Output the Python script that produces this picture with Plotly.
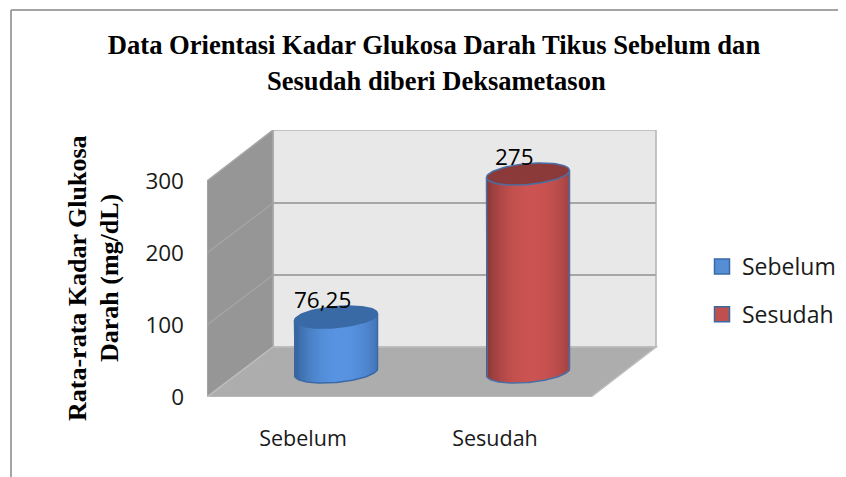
import numpy as np
import plotly.graph_objects as go

categories = ["Sebelum", "Sesudah"]
values = [76.25, 275]
value_labels = ["76,25", "275"]
y_ticks = [0, 100, 200, 300]
title_lines = ["Data Orientasi Kadar Glukosa Darah Tikus Sebelum dan", "Sesudah diberi Deksametason"]
ytitle_lines = ["Rata-rata Kadar Glukosa", "Darah (mg/dL)"]

PAGE = 8                             # the page's own body margin
W, H = 846 - PAGE, 477 - PAGE        # figure size
L, R, T, B = 207, 846, 130, 397      # plot area in window pixels
PX_Y = 0.72                          # pixels per value unit
PX_X = 192.0                         # pixels per category
xmax = (R - L) / PX_X
ymax = (B - T) / PX_Y
xback = (656 - L) / PX_X             # right end of the back wall
DX, DY = 66 / PX_X, 50 / PX_Y        # depth of the 3D box
px = lambda p: (p - L) / (R - L)     # window pixel -> paper
py = lambda p: (B - p) / (B - T)

SERIF = "Liberation Serif"
SANS = "Open Sans"
palettes = [
    {"edge": (46, 88, 140), "mid": (88, 148, 226), "top": "#3A6AA6", "line": "#3A6AA6", "sw": "#558ED5"},
    {"edge": (122, 50, 50), "mid": (204, 84, 82), "top": "#8C3A39", "line": "#4A6EA5", "sw": "#C0504D"},
]
A = 41.5 / PX_X      # cylinder half width
RY = 10.5 / PX_Y     # ellipse half height
TILT = 3.5 / PX_Y    # rise of the ellipse across half its width

fig = go.Figure()


def shade(u, p):
    t = np.clip(1 - ((u - 0.12) / 1.12) ** 2, 0, 1) ** 0.7
    c = [p["edge"][i] + (p["mid"][i] - p["edge"][i]) * t for i in range(3)]
    return "rgb(%d,%d,%d)" % tuple(c)


for i, (cat, v) in enumerate(zip(categories, values)):
    p = palettes[i]
    cx = i + 0.5 + DX / 2
    floor = DY / 2
    top = v + floor
    th = np.linspace(np.pi, 0, 84)
    u = np.cos(th)
    bottom = floor - RY * np.sin(th) + TILT * u
    upper = top + TILT * u
    widths = np.gradient(u) * 1.6 * A + 0.002
    fig.add_trace(go.Bar(
        x=cx + A * u, y=upper - bottom, base=bottom, width=widths,
        marker=dict(color=[shade(k, p) for k in u], line=dict(width=0)),
        showlegend=False, hoverinfo="skip",
    ))
    fig.add_trace(go.Scatter(
        x=np.r_[cx - A, cx + A * u, cx + A],
        y=np.r_[top - TILT, bottom, top + TILT],
        mode="lines", line=dict(color=p["line"], width=1.5), showlegend=False, hoverinfo="skip",
    ))
    tt = np.linspace(0, 2 * np.pi, 90)
    fig.add_trace(go.Scatter(
        x=cx + A * np.cos(tt), y=top + RY * np.sin(tt) + TILT * np.cos(tt),
        mode="lines", fill="toself", fillcolor=p["top"],
        line=dict(color=p["line"], width=1.5), showlegend=False, hoverinfo="skip",
    ))
    fig.add_trace(go.Scatter(
        x=[None], y=[None], mode="markers", name=cat, legendgroup=cat,
        marker=dict(symbol="square", size=15, color=p["sw"], line=dict(color="#3A6AA6", width=1.5)),
    ))

shapes = []


def poly(pts, fill, line="rgba(0,0,0,0)", w=0):
    d = "M" + "L".join(f"{a},{b}" for a, b in pts) + "Z"
    shapes.append(dict(type="path", path=d, xref="x", yref="y", fillcolor=fill,
                       line=dict(color=line, width=w), layer="below"))


poly([(DX, DY), (xback, DY), (xback, ymax), (DX, ymax)], "#E8E8E8", "#B4B4B4", 1.5)
poly([(0, 0), (DX, DY), (DX, ymax), (0, 300)], "#969696", "#A8A8A8", 1.5)
poly([(0, 0), (2, 0), (xback, DY), (DX, DY)], "#ADADAD", "#BDBDBD", 1.5)
for t in y_ticks[1:-1]:
    shapes.append(dict(type="line", xref="x", yref="y", x0=DX, x1=xback, y0=t + DY, y1=t + DY,
                       line=dict(color="#A6A6A6", width=2), layer="below"))
    shapes.append(dict(type="line", xref="x", yref="y", x0=0, x1=DX, y0=t, y1=t + DY,
                       line=dict(color="#A4A4A4", width=1.5), layer="below"))
# outer chart frame
shapes.append(dict(type="line", xref="paper", yref="paper", x0=px(11), x1=px(846), y0=py(10), y1=py(10),
                   line=dict(color="#868686", width=1.5)))
shapes.append(dict(type="line", xref="paper", yref="paper", x0=px(11), x1=px(11), y0=py(10), y1=py(477),
                   line=dict(color="#868686", width=1.5)))

annotations = [
    dict(text=f"<b>{title_lines[1]}</b>", xref="paper", yref="paper", x=px(436), y=py(81), showarrow=False,
         xanchor="center", yanchor="middle", font=dict(family=SERIF, size=26.5, color="#000")),
]
for txt, xp in zip(ytitle_lines, (77, 109)):
    annotations.append(dict(text=f"<b>{txt}</b>", xref="paper", yref="paper", x=px(xp), y=py(278), showarrow=False,
                            textangle=-90, xanchor="center", yanchor="middle",
                            font=dict(family=SERIF, size=26, color="#000")))
for i, (lab, v) in enumerate(zip(value_labels, values)):
    annotations.append(dict(text=lab, x=i + 0.5 + DX / 2, y=v + DY / 2, xref="x", yref="y", showarrow=False,
                            xshift=-14, yshift=18, xanchor="center", yanchor="middle",
                            font=dict(family=SANS, size=22.5, color="#000")))

fig.update_layout(
    width=W, height=H, autosize=False, paper_bgcolor="#FFFFFF", plot_bgcolor="rgba(0,0,0,0)",
    margin=dict(l=L - PAGE, r=846 - R, t=T - PAGE, b=477 - B, autoexpand=False),
    barmode="overlay", bargap=0,
    title=dict(text=f"<b>{title_lines[0]}</b>", x=(434 - PAGE) / W, y=1 - (45 - PAGE) / H,
               xanchor="center", yanchor="middle", xref="container",
               font=dict(family=SERIF, size=26.6, color="#000")),
    xaxis=dict(range=[0, xmax], tickvals=[0.5, 1.5], ticktext=categories, showgrid=False, zeroline=False,
               showline=False, ticks="", automargin=False, ticklabelstandoff=26,
               tickfont=dict(family=SANS, size=21.5, color="#1a1a1a")),
    yaxis=dict(range=[0, ymax], tickvals=y_ticks, showgrid=False, zeroline=False, showline=False, ticks="",
               automargin=False, ticklabelstandoff=22, tickfont=dict(family=SANS, size=22.5, color="#1a1a1a")),
    legend=dict(x=px(702), y=py(245), xanchor="left", yanchor="top", bgcolor="rgba(0,0,0,0)",
                font=dict(family=SANS, size=23, color="#1a1a1a"), tracegroupgap=15, itemwidth=30),
    shapes=shapes, annotations=annotations,
)
fig.write_html("out.html")
